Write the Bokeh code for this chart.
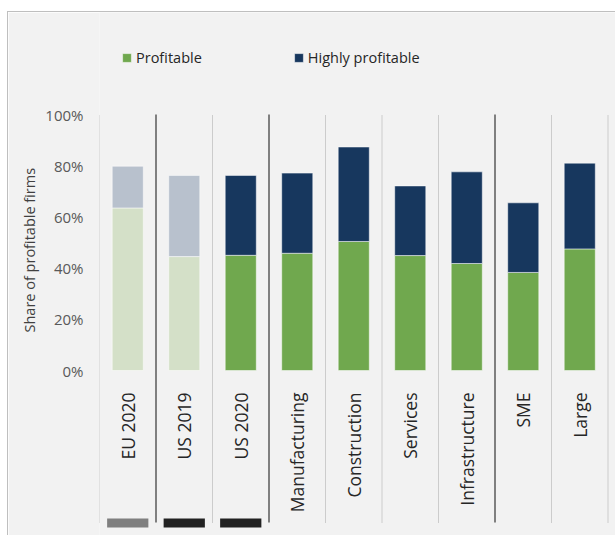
import numpy as np
from bokeh.plotting import figure
from bokeh.models import Range1d, FixedTicker, Legend, LegendItem, Title, ColumnDataSource
from bokeh.core.properties import value
from bokeh.embed import file_html
from bokeh.resources import INLINE

# ---------------- data ----------------
categories = ["EU 2020", "US 2019", "US 2020", "Manufacturing", "Construction",
              "Services", "Infrastructure", "SME", "Large"]
profitable = [63.5, 44.5, 45.0, 45.8, 50.4, 44.9, 41.8, 38.3, 47.5]
highly_profitable = [16.3, 31.7, 31.2, 31.3, 36.9, 27.2, 35.8, 27.2, 33.5]
faded = [True, True, False, False, False, False, False, False, False]
group_sizes = [1, 2, 4, 2]
marker_colors = ["#7f7f7f", "#222222", "#222222"]
y_ticks = [0, 20, 40, 60, 80, 100]
y_tick_labels = ["0%", "20%", "40%", "60%", "80%", "100%"]
series_names = ["Profitable", "Highly profitable"]

# ---------------- style ----------------
FONT = "Open Sans"
BG = "#f2f2f2"
GREEN, NAVY = "#70a84e", "#17375e"
GREEN_F, NAVY_F = "#d4e0c8", "#b8c1cd"

W, H = 608, 524
LEFT = 91
PX_PER_CAT = 56.5
PX_PER_UNIT = 2.56
y_end = 100 + 102 / PX_PER_UNIT
y_start = y_end - H / PX_PER_UNIT
x_start = -0.5
x_end = x_start + (W - LEFT) / PX_PER_CAT

p = figure(width=W, height=H, title=None, output_backend="svg", toolbar_location=None,
           x_range=Range1d(x_start, x_end), y_range=Range1d(y_start, y_end),
           min_border_left=LEFT, min_border_right=0, min_border_top=0, min_border_bottom=0)
p.background_fill_color = BG
p.border_fill_color = BG
p.outline_line_color = None
p.grid.visible = False
p.xaxis.visible = False
p.styles = {"margin-left": "7px", "margin-top": "11px",
            "border-top": "1px solid #bfbfbf", "border-left": "1px solid #bfbfbf"}

idx = list(range(len(categories)))
src = ColumnDataSource(dict(
    x=idx,
    prof=profitable,
    top=[a + b for a, b in zip(profitable, highly_profitable)],
    gcol=[GREEN_F if f else GREEN for f in faded],
    ncol=[NAVY_F if f else NAVY for f in faded],
))

# dividers
bounds = [i - 0.5 for i in range(len(categories) + 1)]
solid = []
acc = 0
for g in group_sizes[:-1]:
    acc += g
    solid.append(acc - 0.5)
dotted = [b for b in bounds if b not in solid]
div_bottom = -152 / PX_PER_UNIT
p.segment(x0=dotted, x1=dotted, y0=[div_bottom] * len(dotted), y1=[100] * len(dotted),
          line_color="#a6a6a6", line_width=1, line_dash="1 1")
p.segment(x0=solid, x1=solid, y0=[div_bottom] * len(solid), y1=[100] * len(solid),
          line_color="#808080", line_width=2)

BW = 0.55
r1 = p.vbar(x="x", bottom=0, top="prof", width=BW, fill_color="gcol",
            line_color="white", line_alpha=0.5, line_width=1, source=src)
r2 = p.vbar(x="x", bottom="prof", top="top", width=BW, fill_color="ncol",
            line_color="white", line_alpha=0.5, line_width=1, source=src)

# category labels
p.text(x=idx, y=[-22 / PX_PER_UNIT] * len(idx), text=categories, angle=np.pi / 2,
       text_align="right", text_baseline="middle", text_font=value(FONT),
       text_font_size="17.5px", text_color="#262626")

# bottom markers
mx = idx[:len(marker_colors)]
p.vbar(x=mx, bottom=[-157 / PX_PER_UNIT] * len(mx), top=[-148 / PX_PER_UNIT] * len(mx),
       width=0.73, fill_color=marker_colors, line_color=None)

# y axis
ax = p.yaxis[0]
ax.ticker = FixedTicker(ticks=y_ticks)
ax.major_label_overrides = {t: l for t, l in zip(y_ticks, y_tick_labels)}
ax.axis_line_color = None
ax.major_tick_line_color = None
ax.minor_tick_line_color = None
ax.major_tick_out = 0
ax.major_tick_in = 0
ax.major_label_standoff = 16
ax.major_label_text_font = FONT
ax.major_label_text_font_size = "15px"
ax.major_label_text_color = "#595959"

p.add_layout(Title(text="Share of profitable firms", align="left", offset=204, standoff=8,
                   text_font=FONT, text_font_size="14.5px", text_font_style="normal",
                   text_color="#404040"), "left")

legend = Legend(items=[LegendItem(label=series_names[0], renderers=[r1], index=2),
                       LegendItem(label=series_names[1], renderers=[r2], index=2)],
                orientation="horizontal", location=(22, H - 55), glyph_width=11, glyph_height=11,
                label_standoff=4, spacing=91, padding=0, margin=0, border_line_color=None,
                background_fill_alpha=0, label_text_font=FONT, label_text_font_size="14.5px",
                label_text_color="#262626", label_height=20)
p.add_layout(legend, "center")

open("out.html", "w").write(file_html(p, INLINE))
